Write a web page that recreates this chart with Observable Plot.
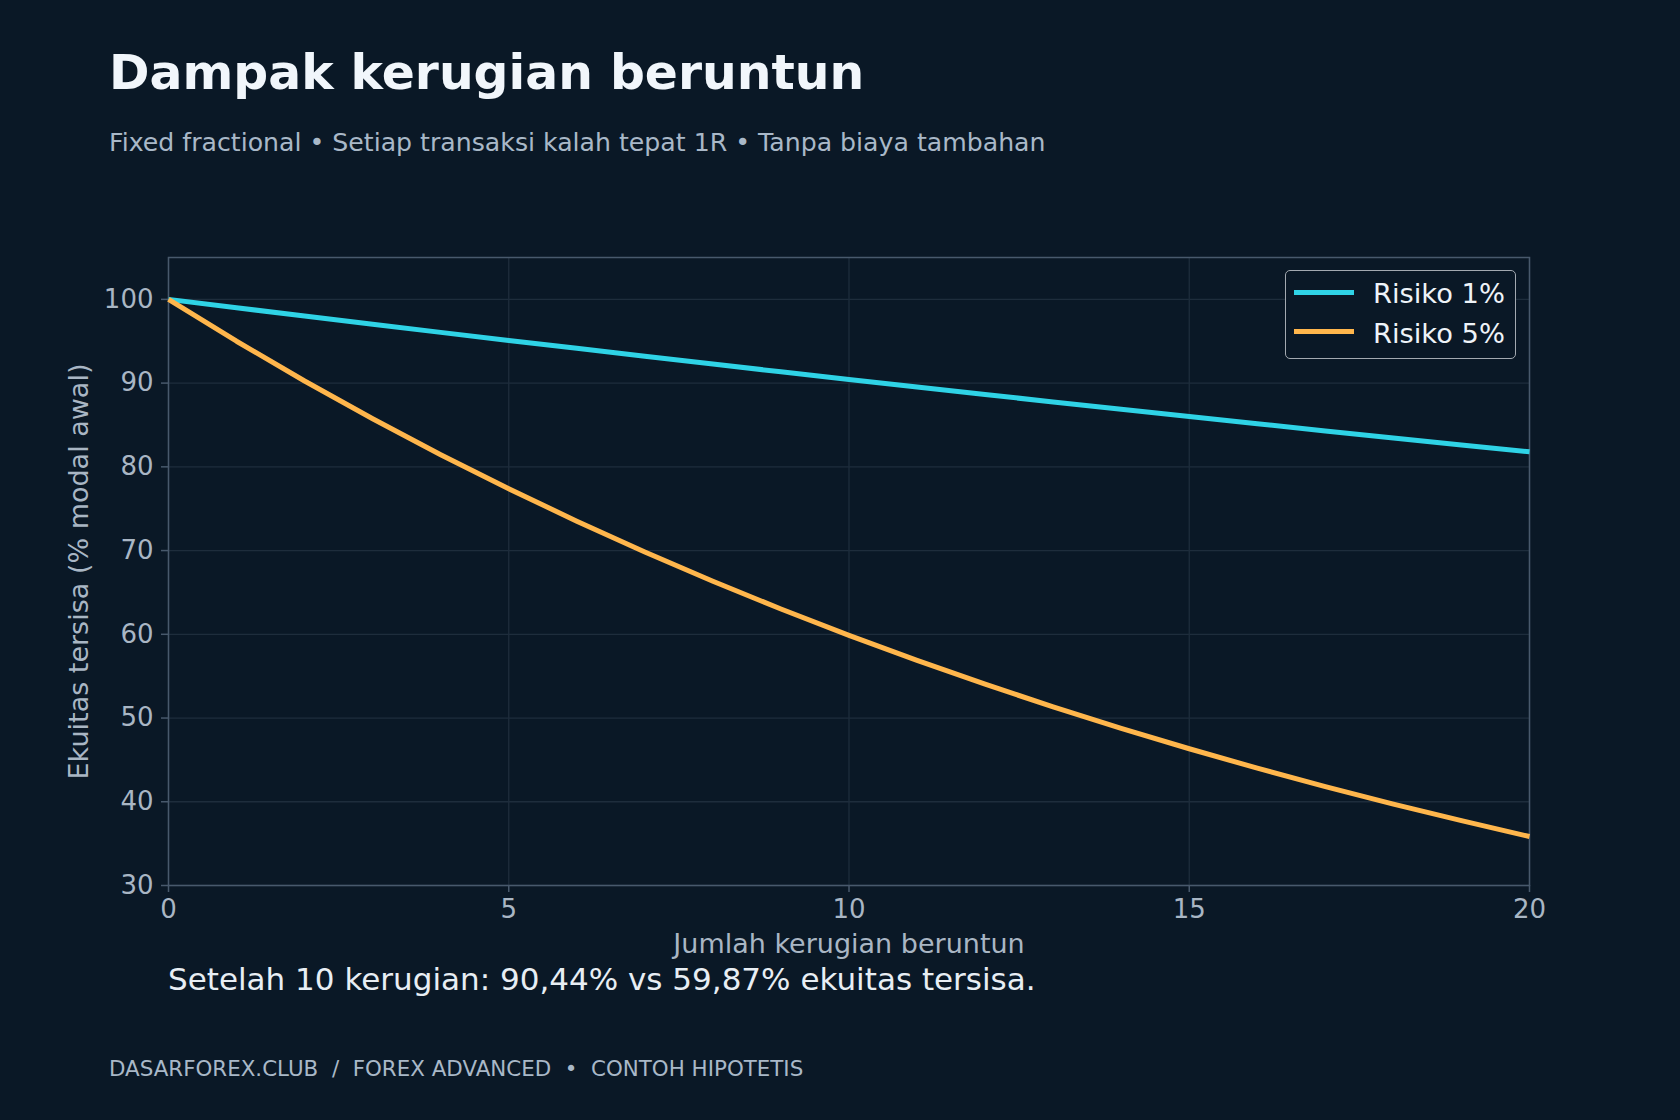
<!DOCTYPE html>
<html>
<head>
<meta charset="utf-8">
<script src="https://cdn.jsdelivr.net/npm/d3@7"></script>
<script src="https://cdn.jsdelivr.net/npm/@observablehq/plot@0.6"></script>
<style>
  html, body { margin: 0; padding: 0; background: #0a1826; }
  #page { position: relative; width: 1680px; height: 1120px; background: #0a1826; font-family: "DejaVu Sans", sans-serif; overflow: hidden; }
  .t { position: absolute; line-height: 1; white-space: pre; }
  #title { left: 109px; top: 49px; font-size: 48.8px; font-weight: bold; color: #f1f6fb; }
  #subtitle { left: 109px; top: 130px; font-size: 25.2px; color: #a9b8c8; }
  #note { left: 168px; top: 964px; font-size: 31px; color: #e8eef4; }
  #footer { left: 109px; top: 1058px; font-size: 21.4px; color: #a9b8c8; }
  #chart { position: absolute; left: 0; top: 200px; }
  #legend { position: absolute; left: 1285px; top: 270px; width: 231px; height: 89px; border: 1.5px solid #a3a9b0; border-radius: 5px; box-sizing: border-box; background: #0a1826; }
  .sw { position: absolute; left: 8px; width: 60px; height: 5px; }
  .lab { position: absolute; left: 87px; font-size: 27.3px; line-height: 1; color: #eef3f8; white-space: pre; }
</style>
</head>
<body>
<div id="page">
  <div id="title" class="t"></div>
  <div id="subtitle" class="t"></div>
  <div id="chart"></div>
  <div id="legend"></div>
  <div id="note" class="t"></div>
  <div id="footer" class="t"></div>
</div>
<script>
// ---- data ----
const losses = [0,1,2,3,4,5,6,7,8,9,10,11,12,13,14,15,16,17,18,19,20];
const risk1 = [100,99,98.01,97.03,96.06,95.10,94.15,93.21,92.27,91.35,90.44,89.53,88.64,87.75,86.87,86.01,85.15,84.29,83.45,82.62,81.79];
const risk5 = [100,95,90.25,85.74,81.45,77.38,73.51,69.83,66.34,63.02,59.87,56.88,54.04,51.33,48.77,46.33,44.01,41.81,39.72,37.74,35.85];
const seriesNames = ["Risiko 1%", "Risiko 5%"];
const seriesColors = ["#2fd3e6", "#ffb64c"];
const xTicks = [0,5,10,15,20];
const yTicks = [30,40,50,60,70,80,90,100];
const titleText = "Dampak kerugian beruntun";
const subtitleText = "Fixed fractional • Setiap transaksi kalah tepat 1R • Tanpa biaya tambahan";
const xLabel = "Jumlah kerugian beruntun";
const yLabel = "Ekuitas tersisa (% modal awal)";
const noteText = "Setelah 10 kerugian: 90,44% vs 59,87% ekuitas tersisa.";
const footerText = "DASARFOREX.CLUB  /  FOREX ADVANCED  •  CONTOH HIPOTETIS";

document.getElementById("title").textContent = titleText;
document.getElementById("subtitle").textContent = subtitleText;
document.getElementById("note").textContent = noteText;
document.getElementById("footer").textContent = footerText;

const rows1 = losses.map((n, i) => ({n, v: risk1[i]}));
const rows5 = losses.map((n, i) => ({n, v: risk5[i]}));

const gridColor = "#1e2d3c";
const frameColor = "#48596c";
const textColor = "#a9b6c4";

const chart = Plot.plot({
  width: 1680,
  height: 800,
  marginLeft: 168,
  marginRight: 151,
  marginTop: 57,
  marginBottom: 115,
  style: { background: "transparent", color: textColor, fontFamily: "DejaVu Sans", fontSize: "26px", overflow: "visible" },
  x: { domain: [0, 20] },
  y: { domain: [30, 105] },
  marks: [
    Plot.gridY(yTicks, { stroke: gridColor, strokeOpacity: 1, strokeWidth: 1.3 }),
    Plot.gridX(xTicks, { stroke: gridColor, strokeOpacity: 1, strokeWidth: 1.3 }),
    Plot.frame({ stroke: frameColor, strokeWidth: 1.5 }),
    Plot.axisY(yTicks, { tickSize: 7, tickPadding: 8, stroke: frameColor, strokeWidth: 1.5, fill: textColor, label: null }),
    Plot.axisX(xTicks, { tickSize: 7, tickPadding: 7, stroke: frameColor, strokeWidth: 1.5, fill: textColor, label: null }),
    Plot.line(rows1, { x: "n", y: "v", stroke: seriesColors[0], strokeWidth: 5, strokeLinejoin: "round", strokeLinecap: "butt" }),
    Plot.line(rows5, { x: "n", y: "v", stroke: seriesColors[1], strokeWidth: 5, strokeLinejoin: "round", strokeLinecap: "butt" }),
    Plot.text([xLabel], { text: d => d, frameAnchor: "bottom", dy: 67, lineAnchor: "bottom", fill: textColor, fontSize: 27 }),
    Plot.text([yLabel], { text: d => d, frameAnchor: "left", textAnchor: "middle", dx: -81, rotate: -90, lineAnchor: "bottom", fill: textColor, fontSize: 27 })
  ]
});
document.getElementById("chart").appendChild(chart);

// legend
const legend = document.getElementById("legend");
const swY = [21, 60];
const labTop = [9, 49];
seriesNames.forEach((name, i) => {
  const sw = document.createElement("div");
  sw.className = "sw";
  sw.style.top = (swY[i] - 2.5) + "px";
  sw.style.background = seriesColors[i];
  legend.appendChild(sw);
  const lab = document.createElement("div");
  lab.className = "lab";
  lab.style.top = labTop[i] + "px";
  lab.textContent = name;
  legend.appendChild(lab);
});
</script>
</body>
</html>
